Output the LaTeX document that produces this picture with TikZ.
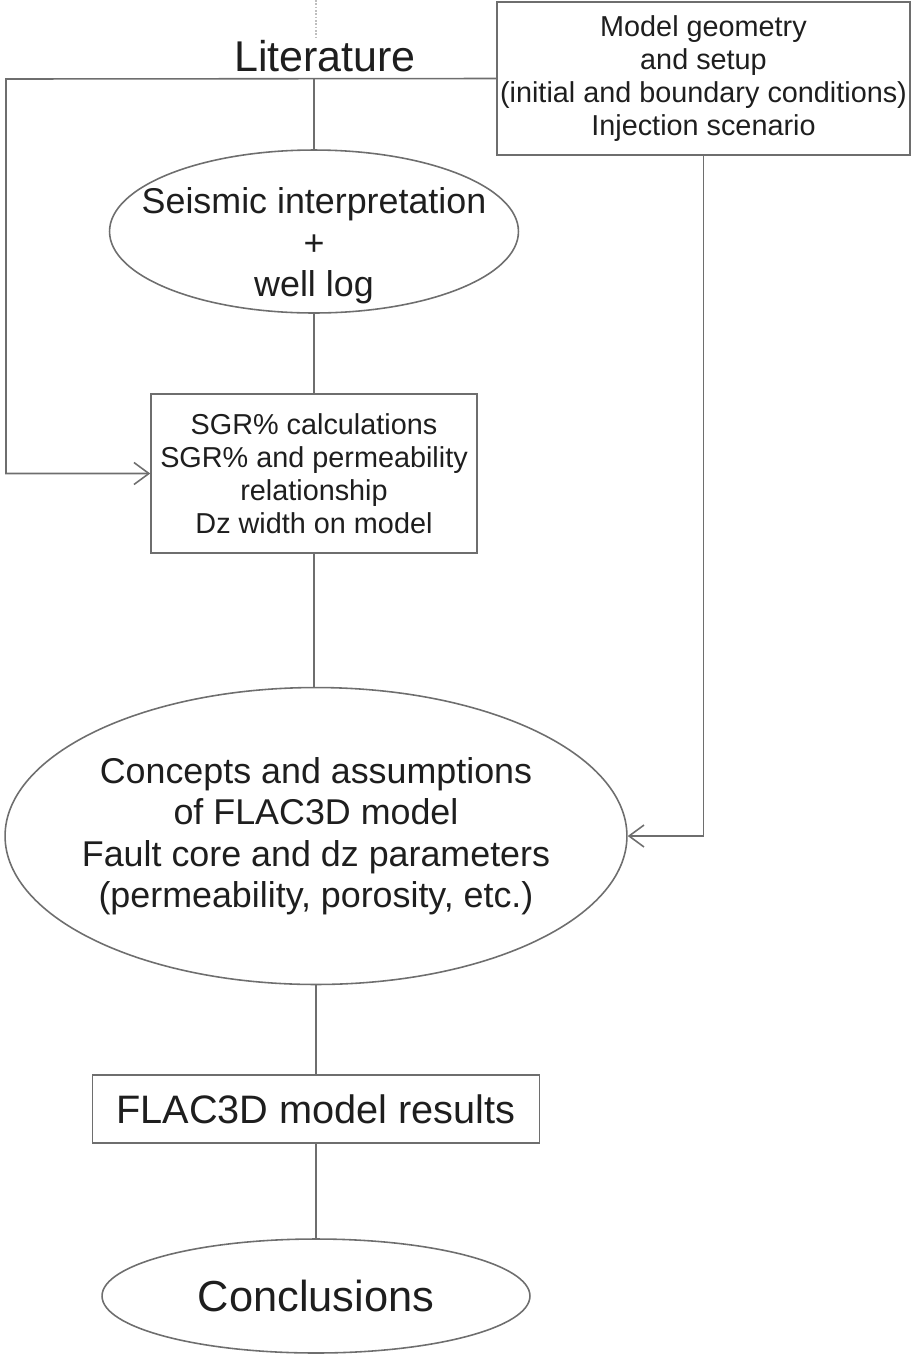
\documentclass[tikz,border=0pt]{standalone}
\usepackage{fontspec}
\setmainfont{Liberation Sans}
\usetikzlibrary{arrows.meta, positioning, shapes.geometric}
\definecolor{cline}{HTML}{6E6E6E}
\definecolor{ctext}{HTML}{1E1E1E}
\tikzset{
  every picture/.style={line width=0.9pt},
  box/.style={draw=cline, text=ctext, align=center, inner sep=0pt, font=\fontsize{16.4}{18.7}\selectfont},
  oval/.style={ellipse, draw=cline, inner sep=0pt},
  lab/.style={text=ctext, align=center, inner sep=0pt},
  link/.style={draw=cline},
  arrow/.style={link, -{Straight Barb[length=8.5pt, width=12.5pt]}},
}
\begin{document}
\begin{tikzpicture}[x=0.02cm, y=-0.02cm]
  \useasboundingbox (0,0) rectangle (912,1357);
  % top row: literature and model setup
  \node[lab, font=\fontsize{24.5}{28}\selectfont] (lit) at (325,56) {Literature};
  \node[box, minimum width=8.26cm, minimum height=3.06cm] (model) at (703.5,78.5)
    {Model geometry\\and setup\\(initial and boundary conditions)\\Injection scenario};
  % main column
  \node[oval, minimum width=8.18cm, minimum height=3.26cm,
    label={[lab, yshift=-0.29cm, font=\fontsize{20.4}{23.6}\selectfont]center:Seismic interpretation\\+\\well log}] (seis) at (314,231.5) {};
  \node[box, minimum width=6.52cm, minimum height=3.18cm] (sgr) at (314,473.5)
    {SGR\% calculations\\SGR\% and permeability\\relationship\\Dz width on model};
  \node[oval, minimum width=12.44cm, minimum height=5.94cm,
    label={[lab, font=\fontsize{20.4}{23.6}\selectfont]center:Concepts and assumptions\\of FLAC3D model\\Fault core and dz parameters\\(permeability, porosity, etc.)}] (concepts) at (316,836) {};
  \node[box, minimum width=8.94cm, minimum height=1.36cm, font=\fontsize{22.6}{26}\selectfont] (flac) at (316,1109) {FLAC3D model results};
  \node[oval, minimum width=8.56cm, minimum height=2.28cm,
    label={[lab, font=\fontsize{24.7}{28}\selectfont]center:Conclusions}] (concl) at (316,1296) {};
  % connectors
  \coordinate (topedge) at (316,0);
  \coordinate (lcorner) at (6,79);
  \draw[link, densely dotted, cline!45] (topedge) -- (topedge |- lit.north);
  \draw[link] (seis.north |- model.west) -- (seis.north);
  \draw[arrow] (model.west) -- (lcorner) |- (sgr.west);
  \draw[link] (seis) -- (sgr);
  \draw[link] (sgr) -- (concepts.north -| sgr.south);
  \draw[link] (concepts) -- (flac);
  \draw[link] (flac) -- (concl);
  \draw[arrow] (model.south) |- (concepts.east);
\end{tikzpicture}
\end{document}
